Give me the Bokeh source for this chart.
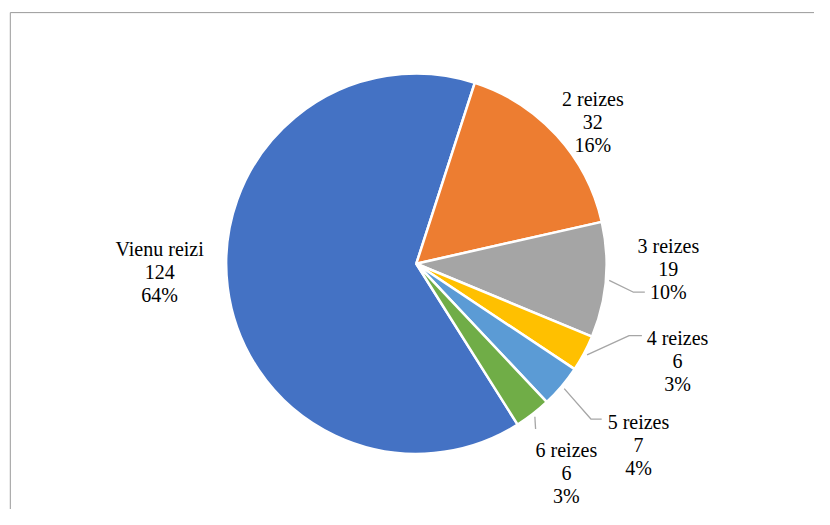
import math
from bokeh.plotting import figure
from bokeh.models import Range1d, ColumnDataSource
from bokeh.core.properties import value
from bokeh.embed import file_html
from bokeh.resources import INLINE

# ---- data ----
categories = ["Vienu reizi", "2 reizes", "3 reizes", "4 reizes", "5 reizes", "6 reizes"]
counts = [124, 32, 19, 6, 7, 6]
percent_labels = ["64%", "16%", "10%", "3%", "4%", "3%"]
colors = ["#4472C4", "#ED7D31", "#A5A5A5", "#FFC000", "#5B9BD5", "#70AD47"]

# ---- layout (reference pixel positions, scaled to the figure) ----
W, H = 814, 509
REF_W, REF_H = 830, 525
SX, SY = W / REF_W, H / REF_H
SR = (SX + SY) / 2
CX, CY, R = 424, 271.5, 195
FIRST_ANGLE = 147.8  # degrees clockwise from 12 o'clock
FONT_PX = 20
LINE_GAP = 24.5
# middle-line baseline position of each label (x centre, baseline y)
label_pos = [(162.3, 280), (604, 125.5), (681, 277), (690.3, 371.8), (650.5, 458), (577, 487.5)]
# leader polylines after the start point on the pie edge (None = no leader)
leader_tail = [None, None,
               [(645, 300.7), (657, 300.7)],
               [(641, 345.7), (654, 345.7)],
               [(602, 431.7), (613, 431.7)],
               [(545.6, 442)]]


def X(px):
    return px * SX


def Y(py):
    return H - py * SY


p = figure(width=W, height=H, output_backend="svg", toolbar_location=None,
           x_range=Range1d(0, W), y_range=Range1d(0, H), min_border=0)
p.axis.visible = False
p.grid.visible = False
p.outline_line_color = None
p.background_fill_color = "white"
p.border_fill_color = "white"

# chart frame (left and top edges visible)
p.line([X(10), X(10), X(REF_W + 10)], [Y(REF_H + 10), Y(12.5), Y(12.5)],
       line_color="#999999", line_width=1)

total = sum(counts)
starts, ends, mids = [], [], []
phi = FIRST_ANGLE
for c in counts:
    span = c / total * 360.0
    starts.append(math.radians(90 - phi))
    ends.append(math.radians(90 - (phi + span)))
    mids.append(phi + span / 2)
    phi += span

src = ColumnDataSource(dict(start=starts, end=ends, color=colors))
p.wedge(x=X(CX), y=Y(CY), radius=R * SR, start_angle="start", end_angle="end",
        direction="clock", fill_color="color", line_color="white", line_width=2.5,
        source=src)

# leaders
for i, tail in enumerate(leader_tail):
    if tail is None:
        continue
    a = math.radians(mids[i])
    sx = X(CX) + (R + 3.5) * SR * math.sin(a)
    sy = Y(CY) + (R + 3.5) * SR * math.cos(a)
    xs = [sx] + [X(q[0]) for q in tail]
    ys = [sy] + [Y(q[1]) for q in tail]
    p.line(xs, ys, line_color="#A6A6A6", line_width=1.3)

# labels
tx, ty, tt = [], [], []
for i, cat in enumerate(categories):
    x0, y0 = label_pos[i]
    lines = [cat, str(counts[i]), percent_labels[i]]
    for k, s in enumerate(lines):
        tx.append(X(x0))
        ty.append(Y(y0 + (k - 1) * LINE_GAP * SY))
        tt.append(s)
p.text(x=tx, y=ty, text=tt, text_align="center", text_baseline="alphabetic",
       text_font=value("'Liberation Serif', 'Times New Roman', serif"),
       text_font_size=f"{FONT_PX}px", text_color="#000000")

open("out.html", "w").write(file_html(p, INLINE))
